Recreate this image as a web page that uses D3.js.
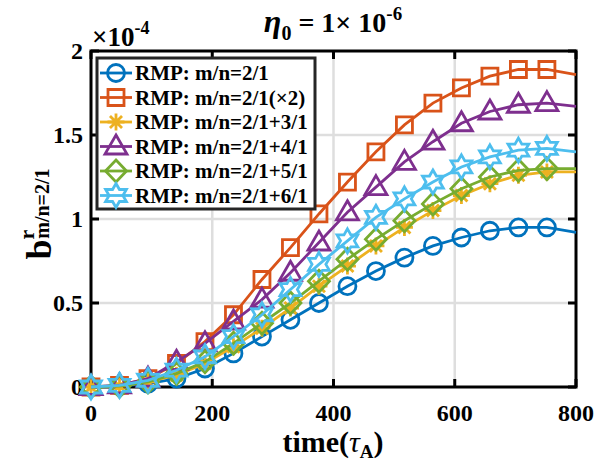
<!DOCTYPE html>
<html>
<head>
<meta charset="utf-8">
<script src="https://cdn.jsdelivr.net/npm/d3@7"></script>
<style>
  body { margin: 0; background: #fff; }
  text { font-family: "Liberation Serif", "Times New Roman", serif; font-weight: bold; }
</style>
</head>
<body>
<div id="chart"></div>
<script>

////////////////////////////////////////////////////////////
// Data (values in units of 1e-4)
////////////////////////////////////////////////////////////

let time = [0, 47, 94, 141, 188, 235, 282, 329, 376, 423, 470, 517, 564, 611, 658, 705, 752, 800]

let rmp_21 = [0, 0.005, 0.02, 0.05, 0.11, 0.20, 0.30, 0.40, 0.50, 0.60, 0.69, 0.77, 0.84, 0.89, 0.93, 0.95, 0.95, 0.92]
let rmp_21_x2 = [0, 0.01, 0.05, 0.14, 0.27, 0.43, 0.64, 0.83, 1.03, 1.22, 1.40, 1.56, 1.69, 1.78, 1.85, 1.89, 1.89, 1.86]
let rmp_21_31 = [0, 0.005, 0.03, 0.07, 0.14, 0.24, 0.35, 0.47, 0.60, 0.72, 0.84, 0.95, 1.05, 1.14, 1.21, 1.26, 1.28, 1.28]
let rmp_21_41 = [0, 0.01, 0.05, 0.15, 0.26, 0.39, 0.52, 0.68, 0.86, 1.04, 1.19, 1.34, 1.46, 1.57, 1.64, 1.68, 1.69, 1.67]
let rmp_21_51 = [0, 0.005, 0.03, 0.08, 0.15, 0.26, 0.38, 0.50, 0.63, 0.76, 0.88, 0.99, 1.09, 1.18, 1.25, 1.29, 1.30, 1.30]
let rmp_21_61 = [0, 0.01, 0.04, 0.10, 0.18, 0.30, 0.43, 0.58, 0.73, 0.87, 1.01, 1.12, 1.22, 1.31, 1.37, 1.41, 1.42, 1.40]

let series_names = [
  'RMP: m/n=2/1',
  'RMP: m/n=2/1(\u00d72)',
  'RMP: m/n=2/1+3/1',
  'RMP: m/n=2/1+4/1',
  'RMP: m/n=2/1+5/1',
  'RMP: m/n=2/1+6/1'
]
let series_values = [rmp_21, rmp_21_x2, rmp_21_31, rmp_21_41, rmp_21_51, rmp_21_61]
let series_colors = ['#0072BD', '#D95319', '#EDB120', '#7E2F8E', '#77AC30', '#4DBEEE']
let series_markers = ['circle', 'square', 'asterisk', 'triangle', 'diamond', 'hexagram']

let x_ticks = [0, 200, 400, 600, 800]
let y_ticks = [0, 0.5, 1, 1.5, 2]

////////////////////////////////////////////////////////////
// Layout
////////////////////////////////////////////////////////////

let W = 598
let H = 463
let plot = { left: 91, right: 576, top: 51, bottom: 387 }

let svg = d3.select('#chart')
  .append('svg')
  .attr('width', W)
  .attr('height', H)

let x_scale = d3.scaleLinear()
  .domain([0, 800])
  .range([plot.left, plot.right])

let y_scale = d3.scaleLinear()
  .domain([0, 2])
  .range([plot.bottom, plot.top])

////////////////////////////////////////////////////////////
// Marker shapes
////////////////////////////////////////////////////////////

function marker_path(type) {
  let p = d3.path()
  if (type == 'circle') {
    p.arc(0, 0, 8.5, 0, 2 * Math.PI)
  } else if (type == 'square') {
    p.rect(-8, -8, 16, 16)
  } else if (type == 'triangle') {
    p.moveTo(0, -11.5)
    p.lineTo(11, 7.5)
    p.lineTo(-11, 7.5)
    p.closePath()
  } else if (type == 'diamond') {
    p.moveTo(0, -11)
    p.lineTo(10.5, 0)
    p.lineTo(0, 11)
    p.lineTo(-10.5, 0)
    p.closePath()
  } else if (type == 'hexagram') {
    for (let i = 0; i < 12; i++) {
      let r = i % 2 == 0 ? 12 : 6.9
      let a = -Math.PI / 2 + i * Math.PI / 6
      if (i == 0) p.moveTo(r * Math.cos(a), r * Math.sin(a))
      else p.lineTo(r * Math.cos(a), r * Math.sin(a))
    }
    p.closePath()
  } else if (type == 'asterisk') {
    for (let i = 0; i < 4; i++) {
      let a = i * Math.PI / 4
      p.moveTo(-8.5 * Math.cos(a), -8.5 * Math.sin(a))
      p.lineTo(8.5 * Math.cos(a), 8.5 * Math.sin(a))
    }
  }
  return p.toString()
}

////////////////////////////////////////////////////////////
// Grid
////////////////////////////////////////////////////////////

let grid = svg.append('g').attr('id', 'grid')

grid.selectAll('.vgrid')
  .data(x_ticks.slice(1, -1))
  .enter()
  .append('line')
    .attr('x1', d => x_scale(d))
    .attr('x2', d => x_scale(d))
    .attr('y1', plot.top)
    .attr('y2', plot.bottom)
    .attr('stroke', '#dedede')
    .attr('stroke-width', 2.5)

grid.selectAll('.hgrid')
  .data(y_ticks.slice(1, -1))
  .enter()
  .append('line')
    .attr('x1', plot.left)
    .attr('x2', plot.right)
    .attr('y1', d => y_scale(d))
    .attr('y2', d => y_scale(d))
    .attr('stroke', '#dedede')
    .attr('stroke-width', 2.5)

////////////////////////////////////////////////////////////
// Axes box and ticks
////////////////////////////////////////////////////////////

let axes = svg.append('g').attr('id', 'axes')

axes.append('rect')
  .attr('x', plot.left)
  .attr('y', plot.top)
  .attr('width', plot.right - plot.left)
  .attr('height', plot.bottom - plot.top)
  .attr('fill', 'none')
  .attr('stroke', '#000')
  .attr('stroke-width', 3)

let tick_len = 8
for (let t of x_ticks) {
  axes.append('line')
    .attr('x1', x_scale(t)).attr('x2', x_scale(t))
    .attr('y1', plot.bottom).attr('y2', plot.bottom - tick_len)
    .attr('stroke', '#000').attr('stroke-width', 3)
  axes.append('line')
    .attr('x1', x_scale(t)).attr('x2', x_scale(t))
    .attr('y1', plot.top).attr('y2', plot.top + tick_len)
    .attr('stroke', '#000').attr('stroke-width', 3)
}
for (let t of y_ticks) {
  axes.append('line')
    .attr('x1', plot.left).attr('x2', plot.left + tick_len)
    .attr('y1', y_scale(t)).attr('y2', y_scale(t))
    .attr('stroke', '#000').attr('stroke-width', 3)
  axes.append('line')
    .attr('x1', plot.right).attr('x2', plot.right - tick_len)
    .attr('y1', y_scale(t)).attr('y2', y_scale(t))
    .attr('stroke', '#000').attr('stroke-width', 3)
}

// Tick labels
axes.selectAll('.xlabel')
  .data(x_ticks)
  .enter()
  .append('text')
    .attr('x', d => x_scale(d))
    .attr('y', plot.bottom + 34)
    .attr('text-anchor', 'middle')
    .attr('font-size', 24)
    .text(d => d)

axes.selectAll('.ylabel')
  .data(y_ticks)
  .enter()
  .append('text')
    .attr('x', plot.left - 8)
    .attr('y', d => y_scale(d) + 8)
    .attr('text-anchor', 'end')
    .attr('font-size', 24)
    .text(d => d)

// Exponent
let expo = axes.append('text')
  .attr('x', 92)
  .attr('y', 46)
  .attr('font-size', 27)
expo.append('tspan').text('\u00d710')
expo.append('tspan').attr('font-size', 18).attr('dy', -12).text('-4')

////////////////////////////////////////////////////////////
// Series
////////////////////////////////////////////////////////////

let line = d3.line()
  .x(d => x_scale(d[0]))
  .y(d => y_scale(d[1]))

let series_g = svg.append('g').attr('id', 'series')

series_values.forEach((vals, i) => {
  let pts = time.map((t, j) => [t, vals[j]])
  let g = series_g.append('g')

  g.append('path')
    .datum(pts)
    .attr('d', line)
    .attr('fill', 'none')
    .attr('stroke', series_colors[i])
    .attr('stroke-width', 2.8)

  g.selectAll('.marker')
    .data(pts.slice(0, -1))
    .enter()
    .append('path')
      .attr('d', marker_path(series_markers[i]))
      .attr('transform', d => `translate(${x_scale(d[0])},${y_scale(d[1])})`)
      .attr('fill', 'none')
      .attr('stroke', series_colors[i])
      .attr('stroke-width', 2.8)
})

////////////////////////////////////////////////////////////
// Legend
////////////////////////////////////////////////////////////

let legend = svg.append('g').attr('id', 'legend')

legend.append('rect')
  .attr('x', 97)
  .attr('y', 58)
  .attr('width', 218)
  .attr('height', 151)
  .attr('fill', '#fff')
  .attr('stroke', '#262626')
  .attr('stroke-width', 3)

series_names.forEach((name, i) => {
  let cy = 73 + i * 24.5
  legend.append('line')
    .attr('x1', 100).attr('x2', 132)
    .attr('y1', cy).attr('y2', cy)
    .attr('stroke', series_colors[i])
    .attr('stroke-width', 2.8)
  legend.append('path')
    .attr('d', marker_path(series_markers[i]))
    .attr('transform', `translate(116,${cy})`)
    .attr('fill', 'none')
    .attr('stroke', series_colors[i])
    .attr('stroke-width', 2.8)
  legend.append('text')
    .attr('x', 135)
    .attr('y', cy + 7)
    .attr('font-size', 21)
    .text(name)
})

////////////////////////////////////////////////////////////
// Titles
////////////////////////////////////////////////////////////

let title = svg.append('text')
  .attr('x', 333)
  .attr('y', 32)
  .attr('text-anchor', 'middle')
  .attr('font-size', 28)
title.append('tspan').attr('font-style', 'italic').attr('font-size', 32).text('\u03b7')
title.append('tspan').attr('font-size', 20).attr('dy', 8).text('0')
title.append('tspan').attr('dy', -8).text(' = 1\u00d7 10')
title.append('tspan').attr('font-size', 19).attr('dy', -12).text('-6')

let xlab = svg.append('text')
  .attr('x', 333)
  .attr('y', 452)
  .attr('text-anchor', 'middle')
  .attr('font-size', 30)
xlab.append('tspan').text('time(')
xlab.append('tspan').attr('font-style', 'italic').attr('font-weight', 'normal').text('\u03c4')
xlab.append('tspan').attr('font-size', 19).attr('dy', 6).text('A')
xlab.append('tspan').attr('dy', -6).text(')')

let ylab = svg.append('text')
  .attr('transform', 'translate(51,214) rotate(-90)')
  .attr('text-anchor', 'middle')
  .attr('font-size', 36)
ylab.append('tspan').text('b')
ylab.append('tspan').attr('font-size', 22).attr('dy', -17).text('r')
ylab.append('tspan').attr('font-size', 20).attr('dx', -9).attr('dy', 15).text('m/n=2/1')

</script>
</body>
</html>
